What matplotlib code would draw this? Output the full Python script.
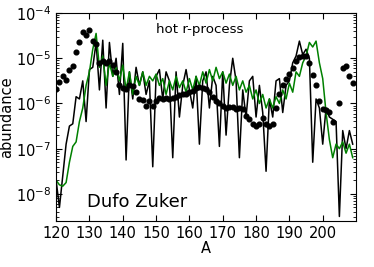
import numpy as np
import matplotlib
matplotlib.use('Agg')
import matplotlib.pyplot as plt

# mass numbers for the two model curves
mass = np.arange(120, 210)

# log10 abundance, Dufo Zuker mass model (black)
dz_log = [-7.7, -8.3, -7.6, -6.9, -6.5, -6.45, -5.85, -5.9, -5.5, -6.4,
          -5.25, -5.2, -4.65, -5.7, -4.6, -6.1, -4.65, -5.4, -5.0, -5.8,
          -4.67, -7.25, -5.3, -5.9, -5.2, -5.6, -5.3, -5.8, -5.5, -7.4,
          -5.4, -5.25, -5.9, -5.3, -5.5, -7.2, -5.3, -6.3, -5.6, -5.25,
          -5.7, -6.1, -5.4, -6.9, -5.5, -5.3, -6.1, -5.4, -5.6, -6.95,
          -5.3, -6.7, -5.6, -5.0, -5.5, -7.2, -5.7, -6.3, -5.5, -5.4,
          -6.3, -5.6, -6.2, -7.5, -5.9, -6.3, -5.5, -5.45, -6.2, -5.6,
          -5.5, -5.1, -4.95, -4.62, -4.92, -4.8, -5.0, -7.3, -5.9, -6.1,
          -6.9, -6.1, -6.3, -6.35, -6.4, -8.5, -6.6, -7.0, -6.6, -6.9]

# log10 abundance, second model (green)
fr_log = [-7.7, -7.8, -7.83, -7.75, -7.3, -6.95, -6.85, -6.4, -6.1, -5.6,
          -5.3, -4.8, -4.45, -5.2, -4.95, -5.6, -5.1, -5.4, -5.2, -5.5,
          -5.15, -5.7, -5.3, -5.8, -5.4, -5.6, -5.3, -5.6, -5.4, -5.5,
          -5.35, -5.6, -5.45, -5.8, -5.5, -5.7, -5.4, -5.65, -5.5, -5.75,
          -5.45, -5.7, -5.4, -5.6, -5.3, -5.55, -5.25, -5.5, -5.2, -5.45,
          -5.3, -5.55, -5.35, -5.6, -5.4, -5.7, -5.5, -5.75, -5.6, -5.9,
          -5.7, -6.0, -5.8, -6.1, -5.9, -6.1, -5.85, -6.0, -5.7, -5.9,
          -5.55, -5.75, -5.3, -5.4, -5.1, -4.95, -4.65, -4.75, -4.62, -5.1,
          -5.45, -6.2, -6.8, -7.2, -6.9, -7.0, -6.85, -7.1, -6.9, -7.2]

# solar r-process abundances (dots)
solar_a = list(range(120, 204)) + [205, 206, 207, 208, 209]
solar_log = [-5.69, -5.53, -5.40, -5.47, -5.27, -5.16, -4.87, -4.65, -4.41, -4.48,
             -4.37, -4.61, -4.68, -5.1, -5.05, -5.1, -5.05, -5.15, -5.3, -5.6,
             -5.65, -5.68, -5.6, -5.62, -5.75, -5.9, -5.92, -6.05, -5.95, -6.05,
             -5.95, -5.88, -5.9, -5.87, -5.9, -5.88, -5.85, -5.82, -5.8, -5.78,
             -5.75, -5.72, -5.65, -5.63, -5.65, -5.68, -5.75, -5.85, -5.95, -6.0,
             -6.06, -6.09, -6.07, -6.07, -6.12, -6.1, -6.13, -6.28, -6.35, -6.46,
             -6.5, -6.45, -6.32, -6.45, -6.5, -6.45, -6.1, -5.8, -5.6, -5.45,
             -5.35, -5.22, -5.05, -4.97, -4.96, -4.95, -5.1, -5.36, -5.6, -5.95,
             -6.13, -6.15, -6.18, -6.4,
             -6.0, -5.22, -5.18, -5.4, -5.55]

fig = plt.figure(figsize=(3.74, 2.67), dpi=100)
ax = fig.add_axes([0.150, 0.172, 0.802, 0.779])

ax.plot(mass, 10.0 ** np.array(dz_log), color='k', lw=1.1)
ax.plot(mass, 10.0 ** np.array(fr_log), color='#008000', lw=1.1)
ax.plot(solar_a, 10.0 ** np.array(solar_log), 'o', color='k', ms=3.4, mec='k')

ax.set_yscale('log')
ax.set_xlim(120, 210)
ax.set_ylim(2.5e-9, 1e-4)
ax.set_xticks(range(120, 210, 10))
ax.tick_params(which='both', direction='in', top=True, right=True, labelsize=10.5)
ax.tick_params(which='major', length=4)
ax.tick_params(which='minor', length=2)

ax.set_xlabel('A', fontsize=10.5, labelpad=0)
ax.set_ylabel('abundance', fontsize=10.5, labelpad=1)

ax.text(0.48, 0.92, 'hot r-process', transform=ax.transAxes, ha='center', va='center', fontsize=9.6)
ax.text(0.27, 0.09, 'Dufo Zuker', transform=ax.transAxes, ha='center', va='center', fontsize=13)

fig.savefig('out.png', dpi=100)
